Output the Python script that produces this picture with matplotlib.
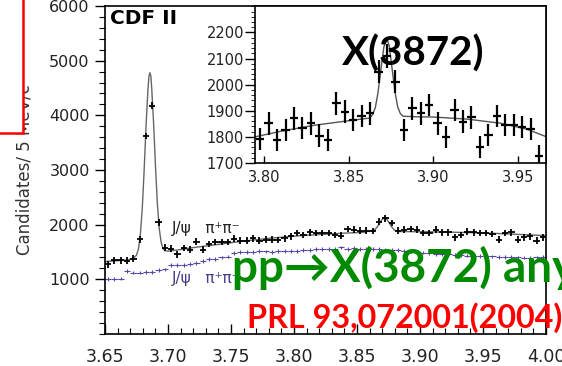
import numpy as np
import matplotlib
matplotlib.use("Agg")
import matplotlib.pyplot as plt
from matplotlib.patches import Rectangle
from matplotlib.ticker import FixedLocator, MultipleLocator, FormatStrFormatter

plt.rcParams['font.family'] = ['DejaVu Sans']

# J/psi pi+ pi- mass spectrum, 5 MeV bins starting at 3.650 GeV
bin_lo = 3.65
bin_w = 0.005
jpsipipi = [1276, 1347, 1347, 1340, 1380, 1733, 3620, 4175, 2040, 1580,
            1562, 1458, 1570, 1545, 1690, 1545, 1650, 1684, 1684, 1686,
            1745, 1706, 1708, 1748, 1706, 1724, 1724, 1722, 1748, 1785,
            1847, 1810, 1859, 1847, 1849, 1845, 1810, 1798, 1918, 1908,
            1890, 1892, 1888, 2055, 2117, 2031, 1890, 1908, 1920, 1908,
            1847, 1849, 1908, 1859, 1861, 1767, 1810, 1871, 1859, 1847,
            1849, 1828, 1724, 1847, 1859, 1724, 1767, 1785, 1706, 1767]
# same-sign pions
samesign = [1000, 1005, 1015, 1150, 1125, 1125, 1135, 1140, 1165, 1180,
            1255, 1260, 1268, 1276, 1300, 1335, 1365, 1378, 1400, 1417,
            1480, 1503, 1500, 1505, 1515, 1510, 1505, 1518, 1512, 1520,
            1525, 1530, 1540, 1552, 1548, 1560, 1564, 1583, 1560, 1570,
            1555, 1560, 1550, 1548, 1545, 1540, 1530, 1520, 1510, 1500,
            1490, 1480, 1470, 1465, 1455, 1445, 1440, 1435, 1430, 1425,
            1420, 1418, 1415, 1410, 1405, 1400, 1398, 1395, 1400, 1405]
main_err = 60
samesign_err = 35

# fit line over the full range
fit_x = [3.650, 3.660, 3.668, 3.672, 3.675, 3.6766, 3.6781, 3.6796, 3.6811,
         3.6826, 3.6841, 3.6849, 3.6856, 3.6864, 3.6871, 3.6886, 3.6901,
         3.6916, 3.6931, 3.6946, 3.6961, 3.6976, 3.700, 3.710, 3.720, 3.740,
         3.760, 3.780, 3.800, 3.820, 3.840, 3.855, 3.8638, 3.8658, 3.8678,
         3.8698, 3.8718, 3.8738, 3.8758, 3.8778, 3.8798, 3.8828, 3.890,
         3.910, 3.930, 3.960, 4.000]
fit_y = [1325, 1340, 1355, 1380, 1440, 1560, 1830, 2310, 3010,
         3820, 4480, 4715, 4780, 4720, 4490, 3840, 3050,
         2370, 1920, 1670, 1560, 1525, 1515, 1545, 1580, 1640,
         1700, 1750, 1790, 1820, 1845, 1860, 1900, 1950, 2023,
         2094, 2125, 2094, 2023, 1950, 1900, 1875, 1873,
         1868, 1860, 1840, 1800]

# zoomed X(3872) region, 5 MeV bins starting at 3.795 GeV
zoom_lo = 3.795
zoom_counts = [1792, 1852, 1788, 1826, 1871, 1833, 1852, 1805, 1788, 1929,
               1897, 1865, 1880, 1890, 2050, 2110, 2011, 1826, 1910, 1890,
               1922, 1852, 1801, 1903, 1858, 1875, 1763, 1807, 1880, 1846,
               1846, 1837, 1829, 1727]
zoom_fit_x = [3.7944, 3.810, 3.830, 3.850, 3.8623, 3.864, 3.8656, 3.8672,
              3.8689, 3.8706, 3.8722, 3.8739, 3.8755, 3.8772, 3.8788, 3.8804,
              3.8821, 3.890, 3.900, 3.920, 3.940, 3.955, 3.967]
zoom_fit_y = [1800, 1822, 1845, 1862, 1872, 1885, 1912, 1970,
              2058, 2142, 2180, 2147, 2062, 1974, 1916, 1889,
              1879, 1877, 1876, 1868, 1852, 1830, 1800]

W, H = 562, 366
fig = plt.figure(figsize=(W / 100, H / 100), dpi=100)


def fx(px):
    return px / W


def fy(py):
    return 1 - py / H


ax = fig.add_axes([fx(105), fy(334), fx(546) - fx(105), fy(6) - fy(334)])
xc = bin_lo + bin_w / 2 + bin_w * np.arange(len(jpsipipi))
ax.errorbar(xc, samesign, xerr=bin_w / 2, yerr=samesign_err, fmt='none',
            ecolor='#5b45a8', elinewidth=0.8)
ax.plot(fit_x, fit_y, color='#666666', lw=1.0)
ax.errorbar(xc, jpsipipi, xerr=bin_w / 2, yerr=main_err, fmt='none',
            ecolor='black', elinewidth=1.3)

ax.set_xlim(3.65, 4.00)
ax.set_ylim(0, 6000)
ax.xaxis.set_major_locator(FixedLocator(np.arange(3.65, 4.001, 0.05)))
ax.xaxis.set_major_formatter(FormatStrFormatter('%.2f'))
ax.xaxis.set_minor_locator(MultipleLocator(0.01))
ax.yaxis.set_major_locator(FixedLocator([1000, 2000, 3000, 4000, 5000, 6000]))
ax.yaxis.set_minor_locator(MultipleLocator(200))
ax.tick_params(axis='x', which='major', direction='in', length=7, width=1,
               pad=10, labelsize=12.5, labelcolor='#222222')
ax.tick_params(axis='x', which='minor', direction='in', length=4, width=0.8)
ax.tick_params(axis='y', which='major', direction='out', length=7, width=1,
               pad=4, labelsize=11.5, labelcolor='#222222')
ax.tick_params(axis='y', which='minor', direction='out', length=4, width=0.8)
for sp in ax.spines.values():
    sp.set_linewidth(1.2)
ax.set_ylabel('Candidates/ 5 MeV/c', fontsize=12, color='#333333')
ax.yaxis.set_label_coords((34 - 105) / 441, 0.5)

ax.text(fx(110), fy(18.5), 'CDF II', transform=fig.transFigure,
        fontsize=14.5, fontweight='bold', va='center', ha='left')
ax.text(fx(172), fy(228), 'J/ψ   π⁺π⁻', transform=fig.transFigure,
        fontsize=11, va='center', ha='left', color='#222222')
ax.text(fx(172), fy(278), 'J/ψ   π⁺π⁻', transform=fig.transFigure,
        fontsize=11, va='center', ha='left', color='#4a3a8a')

# inset: X(3872) close-up
axi = fig.add_axes([fx(255), fy(163), fx(546) - fx(255), fy(5.5) - fy(163)])
zc = zoom_lo + bin_w / 2 + bin_w * np.arange(len(zoom_counts))
z = np.array(zoom_counts, float)
axi.plot(zoom_fit_x, zoom_fit_y, color='#555555', lw=1.0)
axi.errorbar(zc, z, xerr=bin_w / 2, yerr=np.sqrt(z), fmt='none',
             ecolor='black', elinewidth=1.6)
axi.set_xlim(3.7944, 3.9666)
axi.set_ylim(1700, 2303)
axi.xaxis.set_major_locator(FixedLocator([3.80, 3.85, 3.90, 3.95]))
axi.xaxis.set_major_formatter(FormatStrFormatter('%.2f'))
axi.yaxis.set_major_locator(FixedLocator([1700, 1800, 1900, 2000, 2100, 2200]))
axi.yaxis.set_minor_locator(MultipleLocator(20))
axi.tick_params(axis='x', direction='in', length=5, width=1, pad=5,
                labelsize=10.5, labelcolor='#222222')
axi.tick_params(axis='y', which='major', direction='out', length=7, width=1,
                pad=1, labelsize=10.5, labelcolor='#222222')
axi.tick_params(axis='y', which='minor', direction='out', length=3, width=0.6)
for sp in axi.spines.values():
    sp.set_linewidth(1.2)

# slide annotations
fig.text(fx(413), fy(66), 'X(3872)', fontsize=29, fontweight='bold',
         family=['Lato', 'DejaVu Sans'], ha='center', va='baseline',
         color='black', zorder=10)
fig.text(fx(232), fy(282), 'pp→X(3872) any', fontsize=33, fontweight='bold',
         family=['Lato', 'DejaVu Sans'], ha='left', va='baseline',
         color='#008a00', zorder=10)
fig.text(fx(247), fy(328), 'PRL 93,072001(2004)', fontsize=23.3,
         fontweight='bold', family=['Lato', 'DejaVu Sans'], ha='left',
         va='baseline', color='#ff0000', zorder=10)

fig.add_artist(Rectangle((-0.01, fy(133)), fx(22.7) + 0.01, 1 - fy(133) + 0.01,
                         transform=fig.transFigure, facecolor='white',
                         edgecolor='#ff0000', linewidth=1.8, zorder=9))

fig.savefig('out.png', dpi=100)
